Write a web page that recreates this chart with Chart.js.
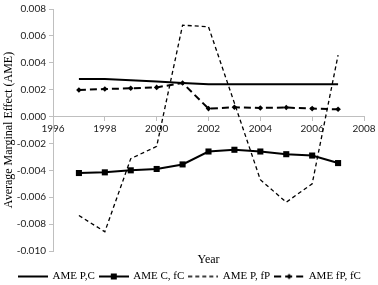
<!DOCTYPE html>
<html><head><meta charset="utf-8">
<script src="https://cdn.jsdelivr.net/npm/chart.js@4/dist/chart.umd.min.js"></script>
<style>html,body{margin:0;padding:0;background:#fff}</style>
</head><body>
<canvas id="c" width="378" height="285" style="display:block;width:378px;height:285px"></canvas>
<script>
const years = [1997,1998,1999,2000,2001,2002,2003,2004,2005,2006,2007];
const ameP_C   = [0.0028,0.0028,0.0027,0.0026,0.0025,0.0024,0.0024,0.0024,0.0024,0.0024,0.0024];
const ameC_fC  = [-0.0042,-0.00415,-0.0040,-0.0039,-0.00356,-0.0026,-0.00247,-0.0026,-0.0028,-0.0029,-0.00346];
const ameP_fP  = [-0.00736,-0.00857,-0.00313,-0.00222,0.0068,0.00667,0.001,-0.0047,-0.00637,-0.0050,0.00457];
const amefP_fC = [0.00198,0.00205,0.0021,0.00217,0.0025,0.00059,0.00069,0.00064,0.00067,0.00059,0.00054];
const seriesNames = ['AME P,C','AME C, fC','AME P, fP','AME fP, fC'];
const xTicks = [1996,1998,2000,2002,2004,2006,2008];
const yTicks = [-0.010,-0.008,-0.006,-0.004,-0.002,0.000,0.002,0.004,0.006,0.008];

const pts = arr => years.map((y,i)=>({x:y,y:arr[i]}));
const styles = [
  {borderWidth:2, borderDash:[], pointStyle:false, pointRadius:0},
  {borderWidth:2, borderDash:[], pointStyle:'rect', pointRadius:4.3},
  {borderWidth:1.3, borderDash:[4,3], pointStyle:false, pointRadius:0},
  {borderWidth:2, borderDash:[7,4], pointStyle:'rectRot', pointRadius:2.8}
];
const datasets = [ameP_C, ameC_fC, ameP_fP, amefP_fC].map((arr,i)=>({
  label: seriesNames[i], data: pts(arr),
  borderColor:'#000', backgroundColor:'#000', pointBackgroundColor:'#000', pointBorderColor:'#000',
  pointBorderWidth:0, tension:0, fill:false,
  borderWidth:styles[i].borderWidth, borderDash:styles[i].borderDash,
  pointStyle:styles[i].pointStyle || 'circle', pointRadius:styles[i].pointRadius, pointHoverRadius:styles[i].pointRadius
}));

function legendImage(i){
  const W = 30;
  const cv = document.createElement('canvas');
  cv.width = W; cv.height = 10;
  const g = cv.getContext('2d');
  g.strokeStyle = '#000'; g.fillStyle = '#000';
  g.lineWidth = styles[i].borderWidth; g.setLineDash(styles[i].borderDash);
  g.beginPath(); g.moveTo(0,5); g.lineTo(W,5); g.stroke();
  g.setLineDash([]);
  const c = W/2;
  if (styles[i].pointStyle === 'rect') { g.fillRect(c-3,5-3,6,6); }
  if (styles[i].pointStyle === 'rectRot') { g.beginPath(); g.moveTo(c,2.2); g.lineTo(c+2.8,5); g.lineTo(c,7.8); g.lineTo(c-2.8,5); g.closePath(); g.fill(); }
  return cv;
}

const legendShift = {
  id:'legendShift',
  beforeDraw(chart){
    const lg = chart.legend;
    if (lg && !lg._shifted) { lg.left += 7; lg.right += 7; lg._shifted = true; }
  }
};

const tickFont = {family:'Lato', size:10};
new Chart(document.getElementById('c'), {
  type:'line',
  data:{datasets},
  plugins:[legendShift],
  options:{
    responsive:false, animation:false, devicePixelRatio:1,
    layout:{padding:{left:2, right:14, top:4, bottom:-1}},
    plugins:{
      tooltip:{enabled:false},
      title:{display:true, text:'Year', position:'bottom', weight:10, fullSize:false,
        font:{family:'Liberation Serif', size:12, weight:'normal', lineHeight:1}, color:'#000', padding:{top:3,bottom:0}},
      legend:{position:'bottom', maxHeight:20,
        labels:{usePointStyle:true, pointStyleWidth:28, boxHeight:10, padding:5,
          font:{family:'Liberation Serif', size:11, lineHeight:1}, color:'#000',
          generateLabels(chart){
            return chart.data.datasets.map((d,i)=>({text:d.label, pointStyle:legendImage(i), datasetIndex:i, lineWidth:0, fontColor:'#000', strokeStyle:'#000', fillStyle:'#000'}));
          }}}
    },
    scales:{
      x:{type:'linear', position:{y:0}, min:xTicks[0], max:xTicks[xTicks.length-1],
        afterBuildTicks(s){ s.ticks = xTicks.map(v=>({value:v})); },
        ticks:{callback:v=>String(v), font:tickFont, color:'#222', padding:2, maxRotation:0, autoSkip:false},
        grid:{display:true, drawOnChartArea:false, drawTicks:true, tickLength:4, color:'#bfbfbf'},
        border:{display:true, color:'#bfbfbf', width:1}},
      y:{type:'linear', min:yTicks[0], max:yTicks[yTicks.length-1],
        afterBuildTicks(s){ s.ticks = yTicks.map(v=>({value:v})); },
        afterFit(s){ s.width = 51; },
        ticks:{callback:v=>v.toFixed(3), font:tickFont, color:'#222', padding:3, autoSkip:false},
        grid:{display:true, drawOnChartArea:false, drawTicks:true, tickLength:4, color:'#bfbfbf'},
        border:{display:true, color:'#bfbfbf', width:1},
        title:{display:true, text:'Average Marginal Effect (AME)', font:{family:'Liberation Serif', size:12}, color:'#000', padding:0}}
    }
  }
});
</script>
</body></html>
